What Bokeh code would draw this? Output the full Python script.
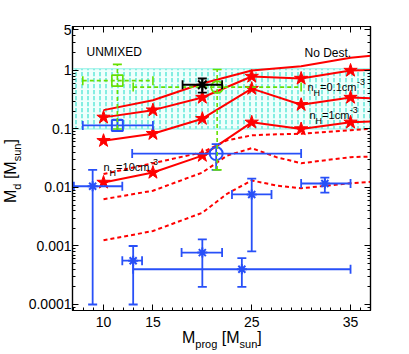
import math
from bokeh.plotting import figure
from bokeh.models import Range1d, FixedTicker, LinearAxis, LogAxis, Label, Div
from bokeh.embed import file_html
from bokeh.resources import INLINE

# ---------------- data ----------------
mprog = [10, 15, 20, 25, 30, 35, 40]
md_no_dest = [0.21, 0.31, 0.60, 1.00, 1.18, 1.65, 2.0]
md_nh01 = [0.158, 0.21, 0.345, 0.79, 0.73, 1.00, 1.06]
md_nh1 = [0.063, 0.083, 0.15, 0.49, 0.26, 0.345, 0.32]
md_nh10 = [0.0122, 0.018, 0.035, 0.13, 0.10, 0.13, 0.14]

mprog_dot = [10, 15, 20, 22.5, 25, 27.5, 30, 35, 40]
md_dot_a = [0.017, 0.026, 0.040, 0.064, 0.078, 0.081, 0.083, 0.095, 0.11]
md_dot_b = [0.0063, 0.0088, 0.018, 0.035, 0.047, 0.033, 0.026, 0.033, 0.035]
md_dot_c = [0.00125, 0.0018, 0.0037, 0.0078, 0.0132, 0.0108, 0.0097, 0.0118, 0.0135]

# observed band (0.1 - 1 Msun)
band_x = [6.86, 37.02]
band_y = [0.1, 1.07]

# blue asterisk observations
obs_x = [8.9, 13.0, 24.0, 20.0, 25.0, 32.4]
obs_y = [0.0105, 0.00056, 0.0004, 0.00077, 0.0076, 0.0117]
obs_xlo = [7.0, 11.9, 13.0, 17.9, 23.0, 30.0]
obs_xhi = [11.9, 13.9, 35.0, 22.0, 27.0, 35.0]
obs_ylo = [0.0001, 0.0001, 0.0002, 0.0002, 0.00081, 0.0082]
obs_yhi = [0.020, 0.001, 0.00062, 0.0013, 0.0142, 0.0148]

# blue square / circle
bsq_x, bsq_y = [11.4], [0.115]
bsq_xlo, bsq_xhi, bsq_ylo, bsq_yhi = [7.9], [15.0], [0.094], [0.145]
bci_x, bci_y = [21.4], [0.038]
bci_xlo, bci_xhi, bci_ylo, bci_yhi = [12.9], [30.0], [0.020], [0.055]

# green square / circle (dashed)
gsq_x, gsq_y = [11.4], [0.67]
gsq_xlo, gsq_xhi, gsq_ylo, gsq_yhi = [7.9], [15.0], [0.10], [1.27]
gci_x, gci_y = [21.5], [0.52]
gci_xlo, gci_xhi, gci_ylo, gci_yhi = [13.0], [30.0], [0.020], [1.04]

# black point
blk_x, blk_y = [20.0], [0.57]
blk_xlo, blk_xhi, blk_ylo, blk_yhi = [18.0], [22.0], [0.42], [0.73]

tick_x = [10, 15, 25, 35]
tick_x_labels = ["10", "15", "25", "35"]
tick_y = [0.0001, 0.001, 0.01, 0.1, 1, 5]
tick_y_labels = ["0.0001", "0.001", "0.01", "0.1", "1", "5"]

RED = "#ff0000"
BLUE = "#2850f8"
GREEN = "#66e000"
FONT = "Liberation Sans"

p = figure(frame_width=298, frame_height=284,
           x_range=Range1d(6.86, 37.02), y_range=Range1d(7.89e-5, 5.65),
           y_axis_type="log", output_backend="svg", toolbar_location=None,
           min_border_left=72, min_border_right=38, min_border_top=26, min_border_bottom=43)
p.grid.visible = False
p.outline_line_color = "black"
p.outline_line_width = 1.2
p.background_fill_color = "white"
p.border_fill_color = "white"

xt = FixedTicker(ticks=tick_x, minor_ticks=list(range(7, 38)))
ymin = [k * 10.0 ** e for e in range(-5, 1) for k in range(2, 10)]
yt = FixedTicker(ticks=tick_y, minor_ticks=ymin)


def style_axis(ax):
    ax.major_tick_in = 6
    ax.major_tick_out = 0
    ax.minor_tick_in = 3
    ax.minor_tick_out = 0
    ax.axis_line_color = "black"
    ax.axis_line_width = 1.2
    ax.major_tick_line_width = 1
    ax.minor_tick_line_width = 1
    ax.major_label_text_font = FONT
    ax.major_label_text_font_size = "14px"
    ax.major_label_text_color = "black"


p.xaxis.ticker = xt
p.xaxis.major_label_overrides = dict(zip(tick_x, tick_x_labels))
style_axis(p.xaxis[0])
p.xaxis.major_label_standoff = 6
p.yaxis.ticker = yt
p.yaxis.major_label_overrides = dict(zip(tick_y, tick_y_labels))
style_axis(p.yaxis[0])
p.yaxis.major_label_standoff = 1

top = LinearAxis(ticker=xt, major_label_overrides={v: "" for v in tick_x})
style_axis(top)
p.add_layout(top, "above")
right = LogAxis(ticker=yt, major_label_overrides={v: "" for v in tick_y})
style_axis(right)
p.add_layout(right, "right")

# band
p.quad(left=[band_x[0]], right=[band_x[1]], bottom=[band_y[0]], top=[band_y[1]],
       fill_color="#effffc", fill_alpha=1.0, line_color="#8ef0e6", line_width=1,
       hatch_pattern=":", hatch_color="#5fe9da", hatch_scale=6, hatch_weight=1.5)

# red model curves
for ys in (md_no_dest, md_nh01, md_nh1, md_nh10):
    p.line(mprog, ys, line_color=RED, line_width=2)
for ys in (md_nh01, md_nh1, md_nh10):
    p.scatter(mprog, ys, marker="star", size=14, fill_color=RED, line_color=RED)
for ys in (md_dot_a, md_dot_b, md_dot_c):
    p.line(mprog_dot, ys, line_color=RED, line_width=2, line_dash="4 3")


def errbars(x, y, xl, xh, yl, yh, color, dash="solid", cap=9, lw=1.8):
    p.segment(x0=xl, y0=y, x1=xh, y1=y, line_color=color, line_width=lw, line_dash=dash)
    p.segment(x0=x, y0=yl, x1=x, y1=yh, line_color=color, line_width=lw, line_dash=dash)
    p.scatter(x=list(x) * 2, y=list(yl) + list(yh), marker="dash", size=cap,
              line_color=color, line_width=lw)
    p.scatter(x=list(xl) + list(xh), y=list(y) * 2, marker="dash", angle=math.pi / 2,
              size=cap, line_color=color, line_width=lw)


errbars(obs_x, obs_y, obs_xlo, obs_xhi, obs_ylo, obs_yhi, BLUE)
p.scatter(obs_x, obs_y, marker="asterisk", size=10, line_color=BLUE, line_width=2)

errbars(bsq_x, bsq_y, bsq_xlo, bsq_xhi, bsq_ylo, bsq_yhi, BLUE)
p.scatter(bsq_x, bsq_y, marker="square", size=11, fill_color=None, line_color=BLUE, line_width=2)
errbars(bci_x, bci_y, bci_xlo, bci_xhi, bci_ylo, bci_yhi, BLUE)
p.scatter(bci_x, bci_y, marker="circle", size=13, fill_color=None, line_color=BLUE, line_width=2)

errbars(gsq_x, gsq_y, gsq_xlo, gsq_xhi, gsq_ylo, gsq_yhi, GREEN, dash="4 3", lw=1.6)
p.scatter(gsq_x, gsq_y, marker="square", size=11, fill_color=None, line_color=GREEN, line_width=1.6)
errbars(gci_x, gci_y, gci_xlo, gci_xhi, gci_ylo, gci_yhi, GREEN, dash="4 3", lw=1.6)
p.scatter(gci_x, gci_y, marker="circle", size=12, fill_color=None, line_color=GREEN, line_width=1.6)

errbars(blk_x, blk_y, blk_xlo, blk_xhi, blk_ylo, blk_yhi, "black")
p.scatter(blk_x, blk_y, marker="asterisk", size=12, line_color="black", line_width=2)

# ---------------- text inside the frame ----------------
FX0, FY1 = 72, 310   # frame left / bottom in page pixels
W = {'n': .556, 'H': .722, '=': .584, '0': .556, '.': .278, '1': .556, 'c': .5, 'm': .833,
     '-': .333, '3': .556}


def tw(s, size):
    return sum(W.get(ch, .556) for ch in s) * size


def put(txt, X, Y, size):
    """Canvas label inside the frame; Y is the baseline (page px)."""
    p.add_layout(Label(x=X - FX0, y=FY1 - Y, x_units="screen", y_units="screen", text=txt,
                       text_font=FONT, text_font_size=f"{size}px", text_color="black",
                       text_align="left", text_baseline="alphabetic"))


put("UNMIXED", 86, 51, 12)
put("No Dest.", 304, 52, 12)


def put_nh(X, Yb, num):
    put("n", X, Yb, 11); X += tw("n", 11)
    put("H", X, Yb + 6, 9); X += tw("H", 9)
    s = "=" + num + "cm"
    put(s, X, Yb, 11); X += tw(s, 11) + 0.5
    put("-3", X, Yb - 5, 9)


put_nh(307, 86, "0.1")
put_nh(309, 114, "1")
put_nh(103, 166, "10")

# ---------------- axis titles (HTML, placed over the page) ----------------
SUB = 'style="font-size:11px;position:relative;top:5px"'
xtitle_html = f'M<span {SUB}>prog</span> [M<span {SUB}>sun</span>]'
ytitle_html = f'M<span {SUB}>d</span> [M<span {SUB}>sun</span>]'
common = {"position": "absolute", "margin": "0", "padding": "0", "white-space": "nowrap",
          "font-family": FONT, "font-size": "16px", "line-height": "18px", "color": "black",
          "z-index": "10"}
# baseline of a 16px line in an 18px line box sits ~15.5px below its top
xtitle = Div(text=xtitle_html, styles=dict(common, left="182px", top=f"{344 - 15.5}px"))
ytitle = Div(text=ytitle_html,
             styles=dict(common, left=f"{17 - 15.5}px", top="203px",
                         transform="rotate(-90deg)", **{"transform-origin": "0 0"}))

open("out.html", "w").write(file_html([p, xtitle, ytitle], INLINE))
